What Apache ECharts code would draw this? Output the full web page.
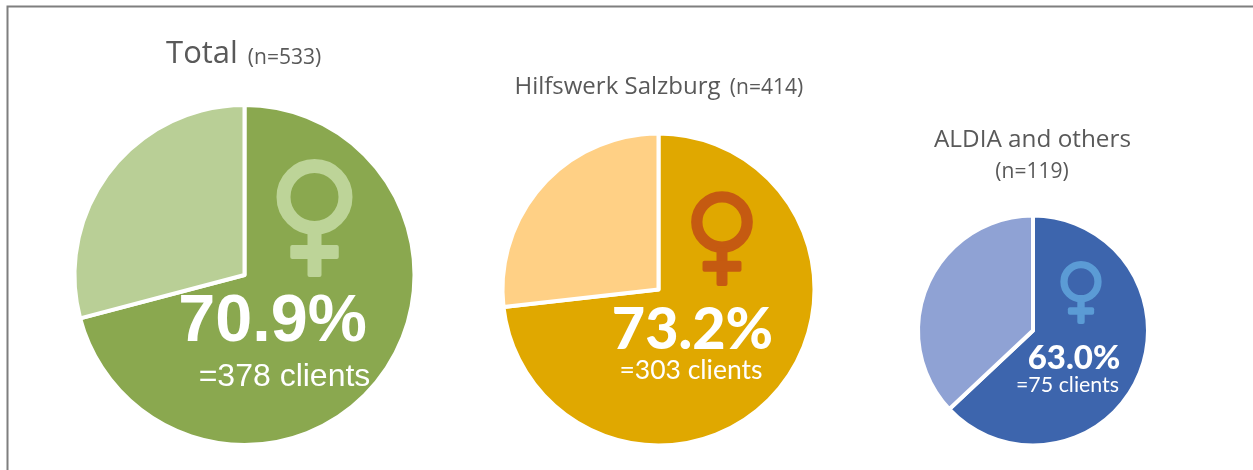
<!DOCTYPE html>
<html>
<head>
<meta charset="utf-8">
<title>Female clients</title>
<script src="https://cdn.jsdelivr.net/npm/echarts@6/dist/echarts.min.js"></script>
<style>
  html, body { margin: 0; padding: 0; background: #fff; }
  #chart { width: 1253px; height: 470px; }
</style>
</head>
<body>
<div id="chart"></div>
<script>
// data
var groups = ['Total', 'Hilfswerk Salzburg', 'ALDIA and others'];
var sampleSizes = [533, 414, 119];
var femalePct = [70.9, 73.2, 63.0];
var otherPct = [29.1, 26.8, 37.0];
var femaleClients = [378, 303, 75];

var darkColors = ['#8AA84F', '#E0A800', '#3D65AD'];
var lightColors = ['#B9CF96', '#FFD085', '#8FA2D4'];
var symbolColors = ['#BDD498', '#C55A11', '#5B9BD5'];

// pie layout
var centers = [[244.5, 275], [658.5, 289.5], [1033, 330.5]];
var radii = [168, 154, 113];
var edge = 4; // white gap between slices

var series = groups.map(function (name, i) {
  return {
    type: 'pie',
    name: name,
    center: centers[i],
    radius: [0, radii[i] + edge / 2],
    startAngle: 90,
    clockwise: true,
    silent: true,
    label: { show: false },
    labelLine: { show: false },
    itemStyle: { borderColor: '#fff', borderWidth: edge },
    data: [
      { name: 'Female', value: femalePct[i], itemStyle: { color: darkColors[i] } },
      { name: 'Other', value: otherPct[i], itemStyle: { color: lightColors[i] } }
    ]
  };
});

// female sign: ring + stem + bar, above the pies
function femaleSign(cx, cy, r, ringW, stemEnd, barY, barW, barH, stemW, color) {
  return {
    type: 'group',
    silent: true,
    children: [
      { type: 'circle', z: 10, shape: { cx: cx, cy: cy, r: r }, style: { fill: 'none', stroke: color, lineWidth: ringW } },
      { type: 'rect', z: 10, shape: { x: cx - stemW / 2, y: cy + r, width: stemW, height: stemEnd - cy - r, r: 2 }, style: { fill: color } },
      { type: 'rect', z: 10, shape: { x: cx - barW / 2, y: barY, width: barW, height: barH, r: 2 }, style: { fill: color } }
    ]
  };
}

function txt(x, y, str, size, weight, family, color) {
  return {
    type: 'text', x: x, y: y, z: 11, silent: true,
    style: { text: str, fontSize: size, fontWeight: weight, fontFamily: family, fill: color, align: 'center', verticalAlign: 'middle' }
  };
}

var grey = '#595959';
var sans = '"Open Sans"';
var arial = '"Liberation Sans"';
var lato = 'Lato';

var option = {
  backgroundColor: '#fff',
  animation: false,
  series: series,
  graphic: [
    { type: 'polyline', silent: true, shape: { points: [[7.5, 470], [7.5, 6.5], [1253, 6.5]] }, style: { fill: 'none', stroke: '#7F7F7F', lineWidth: 2 } },

    femaleSign(314.5, 197, 31, 14, 277, 245, 48.5, 14, 14, symbolColors[0]),
    femaleSign(722, 222, 25.2, 11.3, 286, 260.7, 39, 11, 11, symbolColors[1]),
    femaleSign(1081, 281.7, 17, 7.3, 324, 307.3, 26.3, 7.4, 7.4, symbolColors[2]),

    txt(202, 54, groups[0], 31, 'normal', sans, grey),
    txt(284.5, 58, '(n=' + sampleSizes[0] + ')', 21, 'normal', sans, grey),
    txt(617.5, 87, groups[1], 24, 'normal', sans, grey),
    txt(766.5, 88, '(n=' + sampleSizes[1] + ')', 21, 'normal', sans, grey),
    txt(1032.5, 140, groups[2], 24.3, 'normal', sans, grey),
    txt(1032, 172, '(n=' + sampleSizes[2] + ')', 21, 'normal', sans, grey),

    txt(272.5, 323, femalePct[0].toFixed(1) + '%', 66.5, 'bold', arial, '#fff'),
    txt(284.5, 377, '=' + femaleClients[0] + ' clients', 32, 'normal', arial, '#fff'),
    txt(692.5, 330, femalePct[1].toFixed(1) + '%', 57.5, 900, lato, '#fff'),
    txt(691, 370, '=' + femaleClients[1] + ' clients', 26.5, 'normal', lato, '#fff'),
    txt(1074, 358, femalePct[2].toFixed(1) + '%', 33, 900, lato, '#fff'),
    txt(1067.5, 385, '=' + femaleClients[2] + ' clients', 21.4, 'normal', lato, '#fff')
  ]
};

var chartObj = echarts.init(document.getElementById('chart'), null, { renderer: 'canvas' });
chartObj.setOption(option);
</script>
</body>
</html>
